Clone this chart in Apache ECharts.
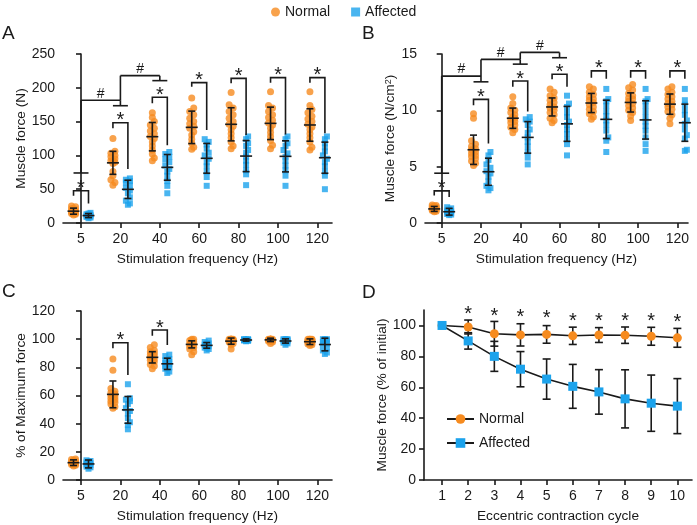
<!DOCTYPE html>
<html><head><meta charset="utf-8">
<script src="https://cdn.jsdelivr.net/npm/echarts@6/dist/echarts.min.js"></script>
<style>html,body{margin:0;padding:0;background:#fff}#c{width:697px;height:525px}</style>
</head><body><div id="c"></div>
<script>
// ---------------- DATA ----------------
const FREQ = ['5','20','40','60','80','100','120'];

// Panel A: Muscle force (N)
const A_NORMAL_POINTS = [
  [12,13,14,15,15,16,17,17,18,19,20,21,22,24,25],
  [56,60,64,70,76,88,92,90,92,95,98,100,103,106,125],
  [92,96,102,108,114,120,125,128,132,136,140,145,150,156,163],
  [109,112,118,124,130,135,140,143,147,150,155,160,165,170,185],
  [110,114,120,126,132,138,143,146,150,155,160,165,170,175,193],
  [110,115,122,128,134,140,145,148,152,156,160,165,170,174,194],
  [108,112,120,126,132,138,142,146,150,154,158,163,168,174,194]
];
const A_AFFECTED_POINTS = [
  [7,8,9,10,10,11,11,12,12,13,14,15],
  [27,29,33,38,44,48,52,56,60,62,64,66],
  [44,55,62,70,76,80,85,90,94,98,102,105],
  [55,68,76,84,90,95,100,104,110,116,120,124],
  [56,72,78,86,92,98,104,108,114,118,124,128],
  [55,70,78,85,92,98,103,108,114,118,124,128],
  [50,70,76,84,90,95,100,106,112,118,124,128]
];
const A_NORMAL_MEAN = [17.5, 89, 127.7, 141.5, 146, 147.4, 145];
const A_NORMAL_SD   = [4.5, 17, 21, 24, 24.5, 24, 24];
const A_AFFECTED_MEAN = [11, 49.8, 82.3, 95.7, 99, 98.6, 96.6];
const A_AFFECTED_SD   = [3, 13.5, 19, 22, 23, 23, 23];
// [category, top, left leg end, right leg end]
const A_STAR_BRACKETS = [[0,47.8,40.4,29],[1,148.4,140,80],[2,186,177,115],[3,207.6,201.7,137.6],[4,214,206.6,130],[5,215,207.6,131],[6,215,207.6,132.7]];
// [from cat, to cat, from end, to end, top, cap at start]
const A_HASH_BRACKETS = [[0,1,74,173.5,181.5,1],[1,2,181.5,210.6,218,0]];

// Panel B: Muscle force (N/cm2)
const B_NORMAL_POINTS = [
  [1.0,1.05,1.1,1.15,1.2,1.2,1.25,1.3,1.3,1.35,1.4,1.45,1.5,1.55,1.6],
  [5.1,5.3,5.5,5.7,5.9,6.0,6.2,6.3,6.5,6.6,6.8,7.0,7.3,9.3,9.7],
  [8.0,8.3,8.5,8.7,8.9,9.0,9.2,9.3,9.4,9.6,9.8,10.0,10.2,10.6,11.2],
  [8.9,9.1,9.3,9.6,9.8,10.0,10.2,10.3,10.5,10.7,10.9,11.1,11.3,11.6,11.9],
  [9.2,9.4,9.7,9.9,10.1,10.3,10.5,10.7,10.9,11.0,11.2,11.4,11.6,11.9,12.1],
  [9.1,9.5,9.8,10.0,10.2,10.4,10.6,10.8,11.0,11.1,11.3,11.5,11.8,12.0,12.3],
  [8.8,9.3,9.6,9.9,10.1,10.3,10.5,10.6,10.8,11.0,11.2,11.4,11.6,11.9,12.1]
];
const B_AFFECTED_POINTS = [
  [0.7,0.75,0.8,0.85,0.9,0.95,1.0,1.05,1.1,1.2,1.3,1.4],
  [2.9,3.1,3.3,3.7,4.1,4.4,4.6,4.9,5.2,5.6,6.0,6.3],
  [5.2,5.8,6.3,6.8,7.2,7.6,8.0,8.3,8.7,9.0,9.2,9.4],
  [6.0,7.0,7.4,7.9,8.3,8.7,9.0,9.4,9.8,10.3,10.6,11.3],
  [6.3,7.3,7.6,8.2,8.7,9.1,9.5,9.9,10.4,10.8,11.0,11.9],
  [6.4,7.0,7.6,8.2,8.6,9.0,9.4,9.9,10.4,10.8,11.0,11.9],
  [6.4,6.5,7.5,7.8,8.3,8.8,9.1,9.6,10.0,10.5,10.9,11.9]
];
const B_NORMAL_MEAN = [1.25, 6.5, 9.3, 10.3, 10.65, 10.7, 10.55];
const B_NORMAL_SD   = [0.22, 1.3, 0.9, 0.8, 0.85, 0.85, 0.9];
const B_AFFECTED_MEAN = [1.0, 4.55, 7.6, 8.8, 9.2, 9.15, 8.9];
const B_AFFECTED_SD   = [0.3, 1.2, 1.4, 1.55, 1.7, 1.7, 1.65];
const B_STAR_BRACKETS = [[0,2.85,2.45,2.3],[1,10.97,10.46,7.05],[2,12.6,12.1,9.9],[3,13.2,12.75,12.1],[4,13.5,12.9,12.8],[5,13.5,12.9,12.8],[6,13.5,12.9,12.8]];
const B_HASH_BRACKETS = [[0,1,4.42,12.53,13.04,1],[1,2,13.04,14.1,14.52,0],[2,3,14.52,14.67,15.14,0]];

// Panel C: % of Maximum force
const C_NORMAL_POINTS = [
  [10,10.5,11,11,11.5,12,12,12.5,12.5,13,13,13.5,14,14.5,15],
  [51,52,54,55,56,57,58,59,60,61,62,63,65,78,86],
  [79,81,82,84,85,86,86,87,88,89,90,91,92,94,96],
  [89,91,93,94,95,96,96,97,97,98,98,99,99,100,100],
  [93,96,97,98,98.5,99,99,99.5,99.5,100,100,100,100,100,100],
  [97,98,98.5,99,99,99.5,99.5,100,100,100,100,100,100,100,100],
  [95.5,96,96.5,97,97.5,98,98,98.5,99,99,99.5,100,100,100,100]
];
const C_AFFECTED_POINTS = [
  [8,9,9.5,10,10.5,11,11.5,12,12.5,13,13.5,14],
  [36,39,41,44,47,49,51,54,56,57,58,68],
  [76,77,79,80,81,82,83,84,85,86,88,89],
  [92,93,94,94,95,95,96,96,97,97,98,99],
  [98.5,98.8,99,99.2,99.3,99.4,99.5,99.6,99.7,99.8,100,100],
  [96,97,97.5,98,98.5,99,99,99.5,99.5,100,100,100],
  [89.5,90.5,92,94,96,97,98,99,99.5,100,100,100]
];
const C_NORMAL_MEAN = [12.3, 60.8, 87.1, 96.3, 98.6, 99.5, 98.2];
const C_NORMAL_SD   = [2, 9.5, 4, 2.5, 2.2, 1.2, 2];
const C_AFFECTED_MEAN = [11.4, 49.8, 82.5, 95.6, 99.4, 98.7, 96.2];
const C_AFFECTED_SD   = [2.8, 9.5, 4, 2, 0.8, 1.5, 4.5];
const C_STAR_BRACKETS = [[1,97.5,93.5,74.6],[2,106.5,102.5,95.9]];

// Panel D: Muscle force (% of initial)
const D_CYCLES = [1,2,3,4,5,6,7,8,9,10];
const D_NORMAL_MEAN = [100, 99, 94.6, 93.9, 94.2, 93.3, 93.8, 93.7, 93.0, 92.0];
const D_NORMAL_SD   = [0, 4.5, 8, 7.2, 5.7, 5.6, 4.8, 5.3, 5.8, 6.1];
const D_AFFECTED_MEAN = [100, 90, 80, 71.7, 65.3, 60.6, 57, 52.5, 49.7, 47.8];
const D_AFFECTED_SD   = [0, 5.3, 9.7, 11.4, 13, 14.2, 14.4, 18.8, 18.2, 17.8];
const D_STAR_Y = [null, 110.2, 109.1, 108.1, 107.5, 105.8, 105.4, 105.8, 105.8, 104.7];

// ---------------- STYLE / LAYOUT ----------------
const ORANGE = '#f68b1f', BLUE = '#1ca3ec', INK = '#1a1a1a';
const FONT = "'Liberation Sans', Arial, Helvetica, sans-serif";
const GOFF = 0.19;   // group offset within a category (axis units)
const LW = 1.6;

function swarm(vals, pxPerVal, step, minDist) {
  const idx = vals.map((v, i) => i).sort((a, b) => vals[a] - vals[b]);
  const placed = [], off = new Array(vals.length).fill(0);
  const cands = [0, step, -step];
  idx.forEach(i => {
    const y = vals[i] * pxPerVal;
    let best = 0, bestD = -1;
    for (const c of cands) {
      let d = Infinity;
      placed.forEach(p => { d = Math.min(d, Math.hypot(p[0] - c, p[1] - y)); });
      if (d >= minDist) { best = c; bestD = d; break; }
      if (d > bestD) { bestD = d; best = c; }
    }
    off[i] = best; placed.push([best, y]);
  });
  return off;
}
function scatterData(points, side, pxPerVal, pxPerCat) {
  const out = [];
  points.forEach((vals, i) => {
    const offs = swarm(vals, pxPerVal, 2, 4);
    vals.forEach((v, k) => out.push([i + side * GOFF + offs[k] / pxPerCat, v]));
  });
  return out;
}
function errData(meanN, sdN, meanA, sdA) {
  const out = [];
  meanN.forEach((m, i) => {
    out.push([i - GOFF, m, sdN[i]]);
    out.push([i + GOFF, meanA[i], sdA[i]]);
  });
  return out;
}
function ln(x1, y1, x2, y2) {
  return { type: 'line', shape: { x1, y1, x2, y2 }, style: { stroke: INK, lineWidth: LW } };
}
function txt(t, x, y, size) {
  return { type: 'text', style: { text: t, x, y, align: 'center', verticalAlign: 'middle',
    textAlign: 'center', textVerticalAlign: 'middle', font: size + 'px ' + FONT, fill: INK } };
}
function errRender(capHalf, meanHalf) {
  return function (params, api) {
    const x = api.value(0), m = api.value(1), s = api.value(2);
    if (s === 0) return null;
    const c = api.coord([x, m]), t = api.coord([x, m + s]), b = api.coord([x, m - s]);
    const ch = [ln(c[0], t[1], c[0], b[1]), ln(c[0] - capHalf, t[1], c[0] + capHalf, t[1]),
      ln(c[0] - capHalf, b[1], c[0] + capHalf, b[1])];
    if (meanHalf) ch.push(ln(c[0] - meanHalf, c[1], c[0] + meanHalf, c[1]));
    return { type: 'group', children: ch };
  };
}
function starRender(params, api) {
  const x = api.value(0), top = api.value(1), lb = api.value(2), rb = api.value(3);
  const pL = api.coord([x - GOFF, lb]), pTL = api.coord([x - GOFF, top]);
  const pTR = api.coord([x + GOFF, top]), pR = api.coord([x + GOFF, rb]);
  return { type: 'group', children: [
    { type: 'polyline', shape: { points: [pL, pTL, pTR, pR] }, style: { stroke: INK, lineWidth: LW, fill: 'none' } },
    txt('*', (pTL[0] + pTR[0]) / 2, pTL[1] - 2, 20)
  ] };
}
function hashRender(params, api) {
  const x1 = api.value(0), x2 = api.value(1), y1 = api.value(2), y2 = api.value(3), top = api.value(4), capL = api.value(5);
  const a = api.coord([x1, y1]), at = api.coord([x1, top]), bt = api.coord([x2, top]), b = api.coord([x2, y2]);
  const r0 = api.coord([x2 - GOFF, y2]), r1 = api.coord([x2 + GOFF, y2]);
  const ch = [ln(a[0], a[1], at[0], at[1]), ln(at[0], at[1], bt[0], bt[1]), ln(bt[0], bt[1], b[0], b[1]), ln(r0[0], r0[1], r1[0], r1[1])];
  if (capL) { const l0 = api.coord([x1 - GOFF, y1]), l1 = api.coord([x1 + GOFF, y1]); ch.push(ln(l0[0], l0[1], l1[0], l1[1])); }
  ch.push(txt('#', (at[0] + bt[0]) / 2, at[1] - 6.5, 14));
  return { type: 'group', children: ch };
}
function dStarRender(params, api) {
  const p = api.coord([api.value(0), api.value(1)]);
  return txt('*', p[0], p[1] + 4.7, 20);
}

const axisText = { color: INK, fontSize: 14, fontFamily: FONT };
const nameText = { color: INK, fontSize: 13.7, fontFamily: FONT };
const axLine = { show: true, lineStyle: { color: INK, width: LW } };
const axTick = { show: true, length: 5, lineStyle: { color: INK, width: LW } };

function catX(gi, min, max) {
  return { type: 'value', gridIndex: gi, min, max,
    axisLine: axLine, axisTick: Object.assign({ customValues: [0,1,2,3,4,5,6] }, axTick),
    axisLabel: Object.assign({ customValues: [0,1,2,3,4,5,6], margin: 9, formatter: v => FREQ[Math.round(v)] }, axisText),
    splitLine: { show: false }, name: 'Stimulation frequency (Hz)', nameLocation: 'middle', nameGap: 29,
    nameTextStyle: nameText };
}
function valY(gi, max, interval, name, gap, extra) {
  return Object.assign({ type: 'value', gridIndex: gi, min: 0, max, interval,
    axisLine: axLine, axisTick: axTick, axisLabel: Object.assign({ margin: 8 }, axisText),
    splitLine: { show: false }, name, nameLocation: 'middle', nameGap: gap, nameTextStyle: nameText }, extra || {});
}

const grids = [
  { left: 63, top: 54, width: 269, height: 169 },
  { left: 425, top: 54, width: 263, height: 169 },
  { left: 63, top: 311, width: 269, height: 169 },
  { left: 424, top: 310, width: 268, height: 170 }
];

const series = [];
const xRanges = [[-0.457, 6.37], [-0.425, 6.27], [-0.457, 6.37], [0.31, 10.56]];
function addDotPanel(gi, nPts, aPts, nM, nS, aM, aS, stars, hashes, ymax) {
  const g = grids[gi];
  const ppv = g.height / ymax, ppc = g.width / (xRanges[gi][1] - xRanges[gi][0]);
  series.push({ type: 'scatter', name: 'Normal', xAxisIndex: gi, yAxisIndex: gi, symbol: 'circle', symbolSize: 7,
    itemStyle: { color: ORANGE }, data: scatterData(nPts, -1, ppv, ppc), z: 2, silent: true });
  series.push({ type: 'scatter', name: 'Affected', xAxisIndex: gi, yAxisIndex: gi, symbol: 'rect', symbolSize: 6,
    itemStyle: { color: BLUE }, data: scatterData(aPts, 1, ppv, ppc), z: 2, silent: true });
  series.push({ type: 'custom', name: 'err' + gi, xAxisIndex: gi, yAxisIndex: gi, renderItem: errRender(3.5, 6),
    data: errData(nM, nS, aM, aS), z: 4, clip: false, silent: true });
  series.push({ type: 'custom', name: 'star' + gi, xAxisIndex: gi, yAxisIndex: gi, renderItem: starRender,
    data: stars, z: 4, clip: false, silent: true });
  if (hashes) series.push({ type: 'custom', name: 'hash' + gi, xAxisIndex: gi, yAxisIndex: gi, renderItem: hashRender,
    data: hashes, z: 4, clip: false, silent: true });
}
addDotPanel(0, A_NORMAL_POINTS, A_AFFECTED_POINTS, A_NORMAL_MEAN, A_NORMAL_SD, A_AFFECTED_MEAN, A_AFFECTED_SD, A_STAR_BRACKETS, A_HASH_BRACKETS, 250);
addDotPanel(1, B_NORMAL_POINTS, B_AFFECTED_POINTS, B_NORMAL_MEAN, B_NORMAL_SD, B_AFFECTED_MEAN, B_AFFECTED_SD, B_STAR_BRACKETS, B_HASH_BRACKETS, 15);
addDotPanel(2, C_NORMAL_POINTS, C_AFFECTED_POINTS, C_NORMAL_MEAN, C_NORMAL_SD, C_AFFECTED_MEAN, C_AFFECTED_SD, C_STAR_BRACKETS, null, 120);

// Panel D
series.push({ type: 'custom', name: 'errD', xAxisIndex: 3, yAxisIndex: 3, renderItem: errRender(4, 0), z: 1, clip: false, silent: true,
  data: D_CYCLES.map((c, i) => [c, D_NORMAL_MEAN[i], D_NORMAL_SD[i]]).concat(D_CYCLES.map((c, i) => [c, D_AFFECTED_MEAN[i], D_AFFECTED_SD[i]])) });
series.push({ type: 'line', name: 'D Normal', xAxisIndex: 3, yAxisIndex: 3, symbol: 'circle', symbolSize: 9,
  itemStyle: { color: ORANGE }, lineStyle: { color: INK, width: LW }, data: D_CYCLES.map((c, i) => [c, D_NORMAL_MEAN[i]]), z: 3, silent: true });
series.push({ type: 'line', name: 'D Affected', xAxisIndex: 3, yAxisIndex: 3, symbol: 'rect', symbolSize: 9,
  itemStyle: { color: BLUE }, lineStyle: { color: INK, width: LW }, data: D_CYCLES.map((c, i) => [c, D_AFFECTED_MEAN[i]]), z: 3, silent: true });
series.push({ type: 'custom', name: 'starD', xAxisIndex: 3, yAxisIndex: 3, renderItem: dStarRender, z: 4, clip: false, silent: true,
  data: D_CYCLES.map((c, i) => [c, D_STAR_Y[i]]).filter(d => d[1] != null) });

const option = {
  animation: false,
  backgroundColor: '#fff',
  grid: grids,
  xAxis: [
    catX(0, xRanges[0][0], xRanges[0][1]),
    catX(1, xRanges[1][0], xRanges[1][1]),
    catX(2, xRanges[2][0], xRanges[2][1]),
    { type: 'value', gridIndex: 3, min: xRanges[3][0], max: xRanges[3][1],
      axisLine: axLine, axisTick: Object.assign({ customValues: D_CYCLES }, axTick),
      axisLabel: Object.assign({ customValues: D_CYCLES, margin: 9 }, axisText),
      splitLine: { show: false }, name: 'Eccentric contraction cycle', nameLocation: 'middle', nameGap: 29, nameTextStyle: nameText }
  ],
  yAxis: [
    valY(0, 250, 50, 'Muscle force (N)', 34),
    valY(1, 15, 5, 'Muscle force (N/cm{sup|2})', 27, { nameTextStyle: Object.assign({ rich: { sup: { fontSize: 9, fontFamily: FONT, color: INK, verticalAlign: 'top', lineHeight: 9 } } }, nameText) }),
    valY(2, 120, 20, '% of Maximum force', 34),
    valY(3, 110, null, 'Muscle force (% of initial)', 34, {
      axisTick: Object.assign({ customValues: [0,20,40,60,80,100] }, axTick),
      axisLabel: Object.assign({ customValues: [0,20,40,60,80,100], margin: 8 }, axisText) })
  ],
  legend: [
    { left: 266, top: 0, orient: 'horizontal', itemGap: 21, itemWidth: 9, itemHeight: 9, selectedMode: false,
      textStyle: { color: INK, fontSize: 14, fontFamily: FONT },
      data: [{ name: 'Normal', icon: 'circle', itemStyle: { color: ORANGE } }, { name: 'Affected', icon: 'rect', itemStyle: { color: BLUE } }] },
    { left: 441, top: 407, orient: 'vertical', itemGap: 10, itemWidth: 27, itemHeight: 12, selectedMode: false,
      textStyle: { color: INK, fontSize: 14, fontFamily: FONT }, formatter: n => n.replace(/^D /, ''),
      data: ['D Normal', 'D Affected'] }
  ],
  graphic: [
    { type: 'text', left: 2, top: 24, style: { text: 'A', font: '19px ' + FONT, fill: INK } },
    { type: 'text', left: 362, top: 24, style: { text: 'B', font: '19px ' + FONT, fill: INK } },
    { type: 'text', left: 2, top: 282, style: { text: 'C', font: '19px ' + FONT, fill: INK } },
    { type: 'text', left: 362, top: 283, style: { text: 'D', font: '19px ' + FONT, fill: INK } }
  ],
  series
};
const chart = echarts.init(document.getElementById('c'), null, { renderer: 'canvas' });
chart.setOption(option);
</script></body></html>
